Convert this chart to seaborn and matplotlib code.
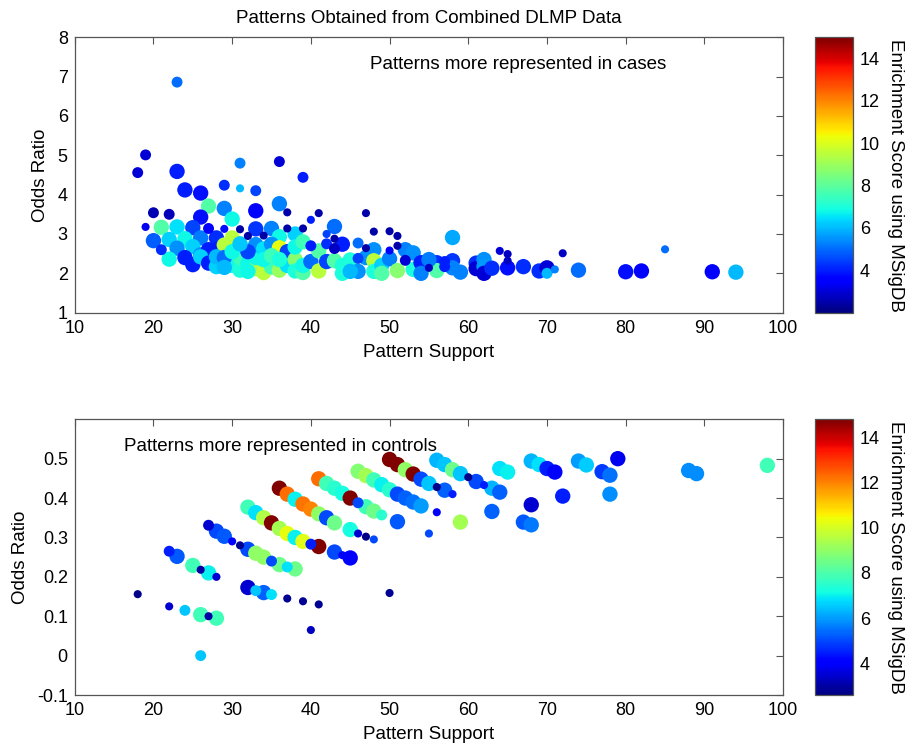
import numpy as np
import pandas as pd
import matplotlib
matplotlib.use("Agg")
import matplotlib.pyplot as plt
import seaborn as sns
from matplotlib.colors import Normalize
from matplotlib.cm import ScalarMappable

sns.set_theme(style="white")
plt.rcParams['font.family'] = ['Liberation Sans', 'DejaVu Sans']
plt.rcParams['text.color'] = 'black'
plt.rcParams['axes.labelcolor'] = 'black'

# ---- top panel: patterns more represented in cases ----
top_support = [23, 19, 18, 23, 24, 26, 29, 31, 31, 33, 36, 39, 36, 29, 27, 26, 30, 33, 37, 41,
               40, 47, 48, 50, 51, 51, 42, 43, 43, 44, 20, 22, 19, 21, 23, 25, 27, 29, 31, 32,
               33, 34, 35, 36, 37, 38, 39, 20, 22, 24, 26, 28, 30, 21, 23, 25, 26, 27, 28, 29,
               22, 24, 25, 26, 27, 28, 28, 30, 31, 31, 32, 33, 33, 33, 34, 34, 35, 35, 36, 36,
               37, 37, 38, 38, 38, 39, 39, 39, 40, 40, 41, 41, 42, 42, 43, 43, 44, 44, 45, 46,
               46, 47, 47, 48, 48, 48, 49, 49, 50, 50, 51, 52, 52, 53, 53, 54, 54, 55, 56, 56,
               57, 58, 58, 58, 59, 61, 61, 62, 62, 62, 63, 64, 65, 65, 65, 67, 69, 70, 70, 71,
               72, 74, 80, 82, 85, 91, 94, 45, 46, 29, 30, 32, 31, 34, 35, 36, 32, 29, 57, 55]
top_odds = [6.86, 5.01, 4.56, 4.59, 4.12, 4.04, 4.24, 4.80, 4.16, 4.10, 4.84, 4.44, 3.77, 3.65, 3.71, 3.43, 3.38, 3.59, 3.55, 3.53,
            3.36, 3.53, 3.06, 3.07, 2.95, 2.70, 3.00, 3.19, 2.88, 2.74, 3.54, 3.50, 3.18, 3.17, 3.18, 3.16, 3.14, 3.13, 3.12, 2.95,
            3.13, 2.96, 3.14, 2.93, 3.14, 3.00, 3.14, 2.83, 2.86, 2.88, 2.90, 2.90, 2.90, 2.60, 2.64, 2.68, 2.47, 2.60, 2.60, 2.72,
            2.36, 2.40, 2.22, 2.42, 2.26, 2.17, 2.42, 2.20, 2.08, 2.40, 2.25, 2.12, 2.40, 2.73, 2.02, 2.62, 2.74, 2.16, 2.08, 2.65,
            2.55, 2.20, 2.35, 2.67, 2.06, 2.02, 2.80, 2.20, 2.70, 2.30, 2.06, 2.57, 2.75, 2.30, 2.63, 2.32, 2.20, 2.00, 2.34, 2.05,
            2.77, 2.64, 2.40, 2.60, 2.32, 2.05, 2.20, 2.00, 2.58, 2.37, 2.07, 2.60, 2.33, 2.52, 2.10, 2.27, 2.00, 2.14, 2.27, 2.07,
            2.17, 2.91, 2.32, 2.14, 2.03, 2.26, 2.12, 2.35, 2.17, 2.00, 2.13, 2.57, 2.49, 2.32, 2.14, 2.17, 2.06, 2.14, 2.00, 2.10,
            2.51, 2.08, 2.04, 2.06, 2.61, 2.04, 2.03, 2.05, 2.38, 2.40, 2.55, 2.55, 2.75, 2.35, 2.45, 2.35, 2.05, 2.15, 2.30, 2.35]
top_score = [5.0, 3.0, 3.0, 4.0, 4.0, 3.8, 4.2, 5.3, 6.0, 4.5, 3.0, 4.0, 5.3, 5.3, 7.8, 3.8, 6.8, 3.5, 2.5, 2.5,
             4.0, 2.5, 2.5, 2.5, 2.5, 2.5, 4.5, 5.0, 2.5, 4.0, 2.6, 2.7, 3.3, 7.8, 6.5, 4.5, 3.5, 3.8, 2.5, 2.5,
             4.3, 2.5, 5.3, 6.8, 2.5, 6.3, 2.5, 4.8, 6.3, 6.8, 5.2, 4.2, 9.5, 4.2, 5.5, 6.3, 5.5, 4.0, 4.0, 9.5,
             6.8, 4.0, 4.0, 6.3, 4.0, 6.3, 6.0, 6.8, 7.0, 7.5, 6.8, 9.3, 6.8, 5.5, 9.5, 6.5, 5.5, 7.5, 9.0, 10.2,
             4.5, 6.5, 8.7, 6.8, 7.0, 7.8, 7.5, 6.8, 4.0, 5.0, 9.5, 7.8, 4.2, 4.5, 2.8, 7.8, 7.0, 7.0, 7.0, 5.5,
             5.0, 2.5, 5.5, 5.5, 9.5, 7.0, 6.3, 7.8, 3.5, 5.3, 8.7, 5.3, 3.0, 5.5, 7.0, 4.0, 5.3, 2.8, 4.2, 7.8,
             4.0, 5.8, 4.3, 5.3, 5.3, 4.2, 3.0, 5.5, 5.6, 3.0, 4.2, 3.0, 2.8, 2.8, 3.8, 4.2, 4.2, 3.0, 6.0, 5.3,
             2.8, 5.0, 3.8, 3.5, 5.0, 3.5, 6.0, 6.0, 4.5, 5.0, 6.8, 4.5, 6.2, 6.8, 7.5, 7.0, 6.8, 6.0, 4.0, 5.2]
top_size = [2, 2, 2, 3, 3, 3, 2, 2, 1, 2, 2, 2, 3, 3, 3, 3, 3, 3, 1, 1,
            1, 1, 1, 1, 1, 1, 1, 3, 1, 3, 2, 2, 1, 3, 3, 3, 2, 1, 1, 1,
            3, 1, 3, 3, 1, 3, 1, 3, 3, 3, 3, 3, 3, 2, 3, 3, 3, 3, 3, 3,
            3, 3, 3, 3, 3, 3, 3, 3, 3, 3, 3, 3, 3, 3, 3, 3, 3, 3, 3, 3,
            3, 3, 3, 3, 3, 3, 3, 3, 2, 3, 3, 3, 2, 3, 2, 3, 3, 3, 3, 3,
            2, 1, 3, 3, 3, 3, 3, 3, 1, 3, 3, 3, 2, 3, 3, 3, 3, 1, 3, 3,
            2, 3, 3, 3, 3, 3, 3, 3, 3, 3, 3, 1, 1, 1, 3, 3, 3, 3, 2, 1,
            1, 3, 3, 3, 1, 3, 3, 3, 2, 3, 3, 3, 3, 3, 3, 3, 3, 3, 2, 3]

# ---- bottom panel: patterns more represented in controls ----
bot_support = [18, 22, 24, 26, 27, 28, 26, 22, 23, 25, 26, 27, 28, 27, 28, 29, 30, 31, 32, 33,
               34, 35, 36, 37, 38, 32, 33, 34, 35, 37, 39, 41, 40, 50, 32, 33, 34, 35, 36, 37,
               38, 39, 40, 41, 36, 37, 38, 39, 40, 41, 42, 43, 45, 46, 47, 48, 43, 44, 45, 41,
               42, 43, 44, 45, 46, 47, 48, 49, 46, 47, 48, 49, 50, 51, 52, 53, 54, 51, 50, 51,
               52, 53, 54, 55, 56, 55, 56, 56, 57, 58, 59, 60, 61, 62, 63, 64, 57, 58, 59, 63,
               64, 65, 68, 69, 70, 71, 72, 68, 67, 68, 74, 75, 77, 78, 78, 79, 88, 89, 98]
bot_odds = [0.156, 0.125, 0.115, 0.104, 0.100, 0.095, 0.000, 0.265, 0.252, 0.229, 0.218, 0.210, 0.200, 0.331, 0.316, 0.303, 0.290, 0.280, 0.270, 0.260,
            0.250, 0.240, 0.231, 0.225, 0.220, 0.173, 0.165, 0.160, 0.155, 0.145, 0.138, 0.130, 0.065, 0.159, 0.377, 0.363, 0.350, 0.337, 0.323, 0.310,
            0.300, 0.290, 0.283, 0.277, 0.425, 0.410, 0.397, 0.385, 0.372, 0.360, 0.350, 0.337, 0.320, 0.310, 0.302, 0.295, 0.263, 0.255, 0.248, 0.449,
            0.437, 0.425, 0.412, 0.400, 0.388, 0.378, 0.367, 0.357, 0.468, 0.457, 0.446, 0.434, 0.421, 0.410, 0.400, 0.390, 0.380, 0.340, 0.498, 0.485,
            0.472, 0.461, 0.448, 0.437, 0.428, 0.310, 0.364, 0.496, 0.485, 0.472, 0.462, 0.453, 0.442, 0.433, 0.425, 0.415, 0.420, 0.410, 0.339, 0.366,
            0.475, 0.466, 0.494, 0.485, 0.475, 0.466, 0.405, 0.383, 0.339, 0.332, 0.494, 0.484, 0.467, 0.458, 0.410, 0.500, 0.470, 0.462, 0.483]
bot_score = [2.7, 3.5, 6.5, 7.8, 3.0, 7.8, 6.5, 4.5, 5.2, 7.8, 3.0, 7.0, 3.5, 3.5, 5.0, 5.2, 4.0, 2.8, 5.0, 9.0,
             9.0, 5.0, 8.5, 6.8, 8.5, 3.5, 6.5, 5.3, 6.8, 2.8, 2.8, 2.8, 3.3, 2.8, 7.8, 6.8, 9.5, 14.8, 9.3, 10.3,
             7.0, 10.2, 4.5, 14.8, 14.8, 12.3, 7.0, 12.2, 12.0, 9.0, 5.0, 8.5, 7.2, 3.5, 2.7, 5.0, 5.0, 4.0, 4.0, 12.3,
             7.8, 7.5, 7.2, 14.8, 5.0, 7.8, 8.5, 7.5, 8.8, 9.3, 7.8, 7.0, 7.5, 5.0, 5.3, 5.5, 6.0, 5.2, 14.8, 14.8,
             9.0, 14.8, 5.0, 6.5, 2.7, 5.0, 4.0, 6.3, 6.5, 8.5, 6.5, 2.7, 5.0, 4.5, 6.3, 5.3, 5.3, 4.5, 9.3, 5.3,
             6.8, 7.0, 6.3, 6.8, 4.5, 4.0, 4.5, 3.5, 5.2, 5.6, 6.0, 6.6, 4.8, 5.5, 5.8, 3.8, 5.8, 5.8, 7.8]
bot_size = [1, 1, 2, 3, 1, 3, 2, 2, 3, 3, 1, 3, 1, 2, 3, 3, 1, 1, 3, 3,
            3, 2, 3, 2, 3, 3, 2, 3, 2, 1, 1, 1, 1, 1, 3, 3, 3, 3, 3, 3,
            3, 3, 2, 3, 3, 3, 3, 3, 3, 3, 3, 3, 3, 1, 1, 1, 3, 1, 3, 3,
            3, 3, 3, 3, 2, 3, 3, 2, 3, 3, 3, 3, 3, 3, 3, 3, 3, 3, 3, 3,
            3, 3, 3, 3, 1, 1, 1, 3, 3, 3, 3, 1, 3, 1, 3, 3, 3, 1, 3, 3,
            3, 3, 3, 3, 3, 3, 3, 3, 3, 3, 3, 3, 3, 3, 3, 3, 3, 3, 3]

size_map = {1: 34, 2: 62, 3: 122}
jet = plt.get_cmap("jet")

top_df = pd.DataFrame({"support": top_support, "odds": top_odds, "score": top_score, "size": top_size})
bot_df = pd.DataFrame({"support": bot_support, "odds": bot_odds, "score": bot_score, "size": bot_size})

fig = plt.figure(figsize=(9.07, 7.45), dpi=100)
ax1 = fig.add_axes([0.0824, 0.5803, 0.781, 0.3697])
ax2 = fig.add_axes([0.0824, 0.0671, 0.781, 0.3701])
cax1 = fig.add_axes([0.8986, 0.5803, 0.0419, 0.3697])
cax2 = fig.add_axes([0.8986, 0.0671, 0.0419, 0.3701])

panels = [
    (ax1, cax1, top_df, (2.0, 15.0), (1, 8), range(1, 9), "Patterns more represented in cases", (0.417, 0.9)),
    (ax2, cax2, bot_df, (2.6, 14.8), (-0.1, 0.6), np.round(np.arange(-0.1, 0.51, 0.1), 1),
     "Patterns more represented in controls", (0.069, 0.9)),
]

edge = "#555555"
for ax, cax, df, clim, ylim, yticks, note, notepos in panels:
    df = df.sort_values("size", ascending=False, kind="stable")
    norm = Normalize(*clim)
    sns.scatterplot(data=df, x="support", y="odds", hue="score", hue_norm=norm, palette=jet,
                    size="size", sizes=size_map, linewidth=0, alpha=1, legend=False, ax=ax)
    ax.set_xlim(10, 100)
    ax.set_ylim(*ylim)
    ax.set_xticks(range(10, 101, 10))
    ax.set_yticks(list(yticks))
    ax.set_yticklabels([f"{v:g}" for v in yticks])
    ax.set_xlabel("Pattern Support", fontsize=13.5, labelpad=5)
    ax.set_ylabel("Odds Ratio", fontsize=13.5, labelpad=6)
    ax.tick_params(direction="in", length=5, width=0.8, top=True, right=True,
                   labelsize=13, color=edge, labelcolor="black", pad=5)
    for s in ax.spines.values():
        s.set_color(edge)
        s.set_linewidth(0.9)
    ax.text(notepos[0], notepos[1], note, transform=ax.transAxes, fontsize=13.5, va="center")

    cb = fig.colorbar(ScalarMappable(norm=norm, cmap=jet), cax=cax)
    cb.set_ticks(range(4, 15, 2))
    cb.ax.tick_params(direction="in", length=4, width=0.8, left=True, right=True,
                      labelsize=13, color=edge, labelcolor="black", pad=5)
    cb.outline.set_edgecolor(edge)
    cb.outline.set_linewidth(0.9)
    cb.set_label("Enrichment Score using MSigDB", rotation=270, fontsize=13.5, labelpad=17)

ax1.set_title("Patterns Obtained from Combined DLMP Data", fontsize=13.5, pad=10)

fig.savefig("out.png", dpi=100)
